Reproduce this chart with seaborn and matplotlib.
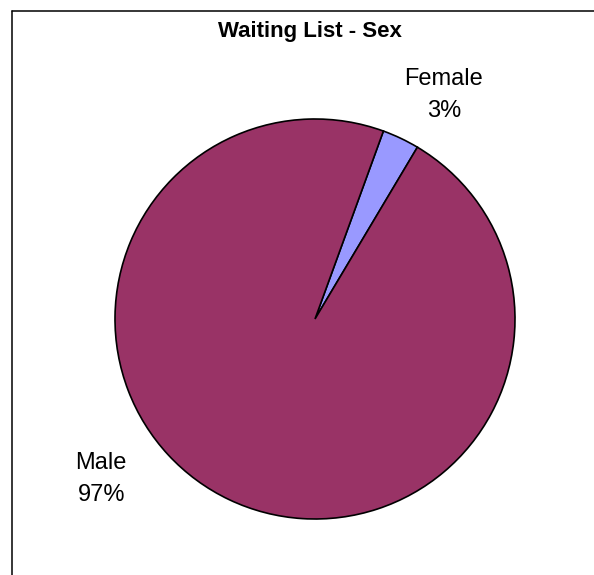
import matplotlib
matplotlib.use("Agg")
import matplotlib.pyplot as plt
from matplotlib.lines import Line2D
import seaborn as sns

# ---- data ----
categories = ["Female", "Male"]
values = [3, 97]
colors = ["#9999FF", "#993366"]
title = "Waiting List - Sex"

sns.set_theme(style="white")
plt.rcParams["font.family"] = ["Liberation Sans", "DejaVu Sans"]

W, H = 594, 575
fig = plt.figure(figsize=(W / 100, H / 100), dpi=100)
fig.patch.set_facecolor("white")

# pie axes: centre (315, 319) px, radius 202 px
cx, cy, r = 315, 319, 202
ax = fig.add_axes([(cx - r) / W, (H - cy - r) / H, 2 * r / W, 2 * r / H])
wedges, _ = ax.pie(values, colors=colors, startangle=70, counterclock=False,
                   radius=1.0,
                   wedgeprops=dict(edgecolor="black", linewidth=1.2))
ax.set_xlim(-1.01, 1.01)
ax.set_ylim(-1.01, 1.01)
ax.set_aspect("auto")
ax.axis("off")

total = sum(values)
label_pos = {"Female": (0.644, 1.119), "Male": (-1.069, -0.80)}
for cat, val in zip(categories, values):
    x, y = label_pos[cat]
    ax.text(x, y, f"{cat}\n{round(100 * val / total)}%", ha="center", va="center",
            fontsize=17, color="black", linespacing=1.6)

fig.text(310 / W, 1 - 32 / H, title, ha="center", va="center",
         fontsize=16, fontweight="bold", color="black")

# chart frame (right and bottom edges cut off)
fig.add_artist(Line2D([12 / W, 12 / W], [0, 1 - 11 / H], transform=fig.transFigure,
                      color="black", linewidth=1.1))
fig.add_artist(Line2D([12 / W, 1], [1 - 11 / H, 1 - 11 / H], transform=fig.transFigure,
                      color="black", linewidth=1.1))

fig.savefig("out.png", dpi=100, facecolor="white")
